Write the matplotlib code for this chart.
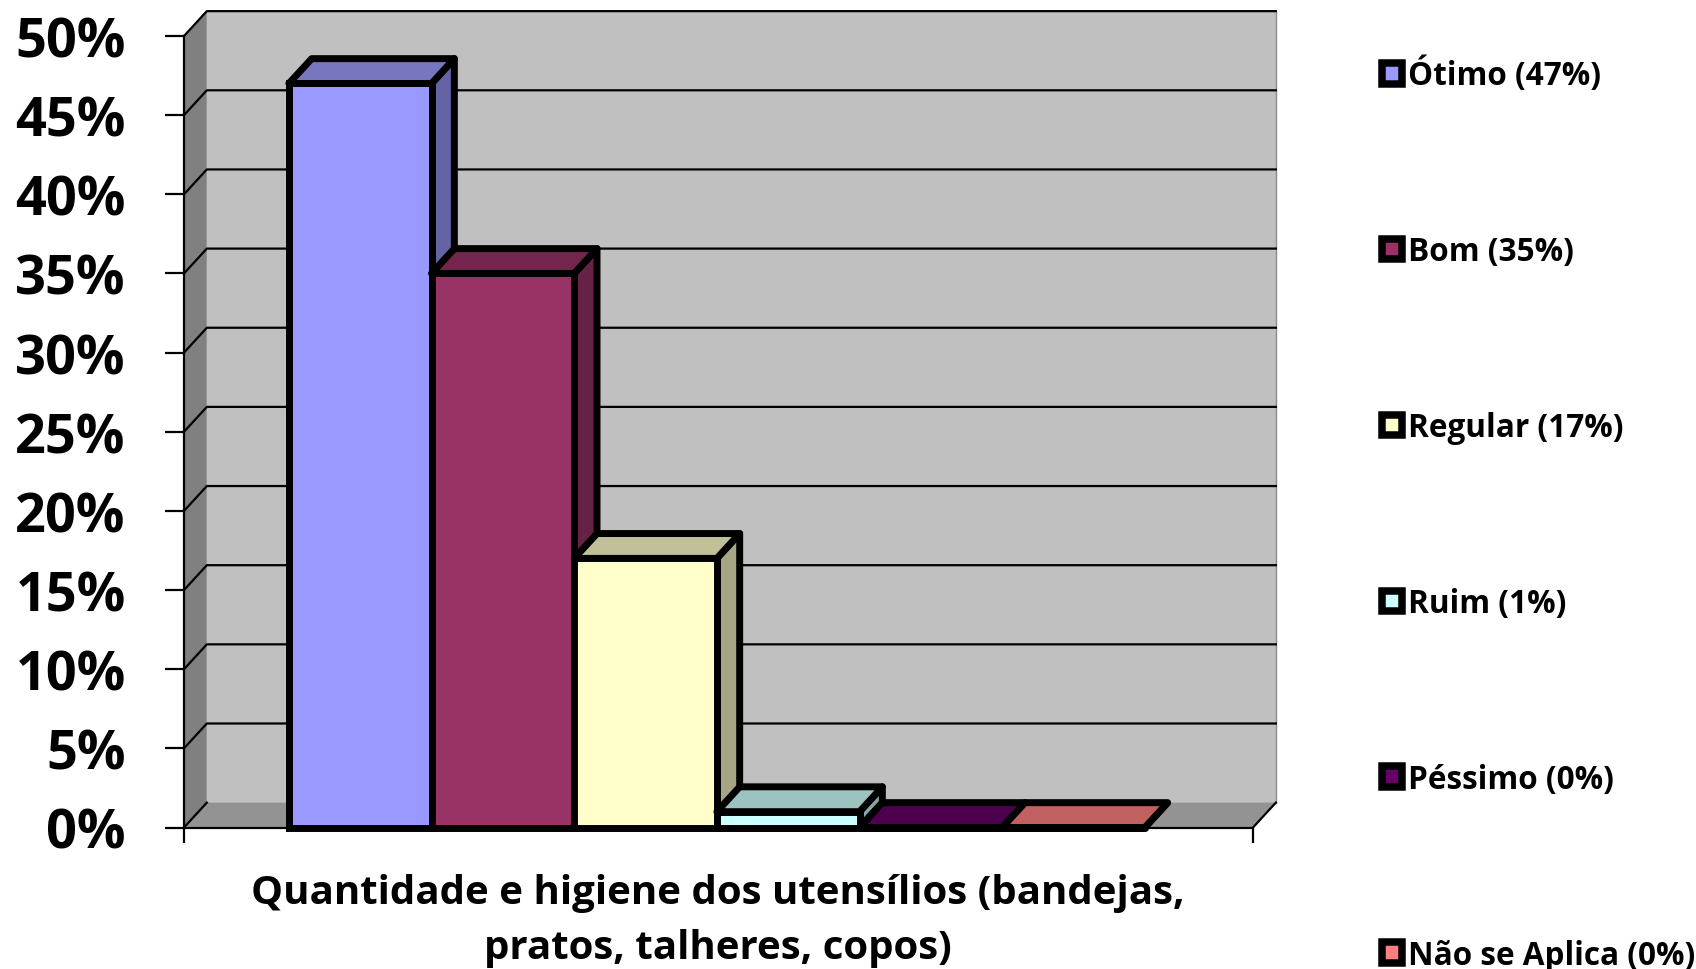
import matplotlib
matplotlib.use("Agg")
import matplotlib.pyplot as plt
from matplotlib.patches import Polygon, Patch

# === Data ===
categories = ["Ótimo", "Bom", "Regular", "Ruim", "Péssimo", "Não se Aplica"]
values = [47, 35, 17, 1, 0, 0]
colors = ["#9999FF", "#993366", "#FFFFCC", "#CCFFFF", "#660066", "#FF8080"]
top_colors = ["#7777C0", "#73264D", "#C0C099", "#9CC3C0", "#4D004D", "#C06060"]
side_colors = ["#6464A4", "#662244", "#A6A685", "#85A6A6", "#440044", "#A65353"]
y_ticks = [0, 5, 10, 15, 20, 25, 30, 35, 40, 45, 50]
x_label = "Quantidade e higiene dos utensílios (bandejas,\npratos, talheres, copos)"

# === Configuration ===
X_MIN, X_MAX = -1.235, 6.258
DX, DY = 0.16, 1.57  # depth of the fake 3D box, in data units
BAR_W = 1.0
BAR_LW = 5
FONT = "Open Sans"

plt.rcParams["font.family"] = FONT
plt.rcParams["font.weight"] = "bold"

fig = plt.figure(figsize=(16.96, 9.70), dpi=100)
ax = fig.add_axes([184 / 1696, 1 - 828.5 / 970, (1253 - 184) / 1696, (828.5 - 37) / 970])
ax.set_xlim(X_MIN, X_MAX)
ax.set_ylim(0, 50)
ax.patch.set_visible(False)


def poly(points, fc, ec="none", lw=0, z=1):
    ax.add_patch(Polygon(points, closed=True, fc=fc, ec=ec, lw=lw, zorder=z,
                         clip_on=False, joinstyle="round"))


# === Walls ===
y_top = y_ticks[-1]
poly([(X_MIN + DX, DY), (X_MAX + DX, DY), (X_MAX + DX, y_top + DY), (X_MIN + DX, y_top + DY)], "#C0C0C0")
poly([(X_MIN, 0), (X_MIN + DX, DY), (X_MIN + DX, y_top + DY), (X_MIN, y_top)], "#808080")
poly([(X_MIN, 0), (X_MAX, 0), (X_MAX + DX, DY), (X_MIN + DX, DY)], "#939393")
ax.plot([X_MAX + DX, X_MAX + DX], [DY, y_top + DY], color="#8a8a8a", lw=1, zorder=1.5, clip_on=False)

# gridlines run along the left wall, then along the back wall
for t in y_ticks[1:]:
    ax.plot([X_MIN, X_MIN + DX, X_MAX + DX], [t, t + DY, t + DY], color="black", lw=1.6,
            zorder=2, clip_on=False)
ax.plot([X_MIN, X_MIN + DX], [0, DY], color="black", lw=1.6, zorder=2, clip_on=False)
ax.plot([X_MAX, X_MAX + DX], [0, DY], color="black", lw=1.6, zorder=2, clip_on=False)

# === Bars, left to right so each one covers the side of the previous ===
for i, v in enumerate(values):
    z = 3 + i
    l, r = i - BAR_W / 2, i + BAR_W / 2
    poly([(r, 0), (r + DX, DY), (r + DX, v + DY), (r, v)], side_colors[i], "black", BAR_LW, z)
    poly([(l, v), (r, v), (r + DX, v + DY), (l + DX, v + DY)], top_colors[i], "black", BAR_LW, z)
    ax.bar(i, v, width=BAR_W, color=colors[i], edgecolor="black", linewidth=BAR_LW, zorder=z,
           clip_on=False)
    if v == 0:
        ax.plot([l, r], [0, 0], color="black", lw=BAR_LW, zorder=z, clip_on=False,
                solid_capstyle="round")

# === Axes ===
for name in ("top", "right"):
    ax.spines[name].set_visible(False)
for name in ("left", "bottom"):
    ax.spines[name].set_linewidth(1.6)
ax.set_yticks(y_ticks)
ax.set_yticklabels([f"{t}%" for t in y_ticks], fontsize=39, fontweight="bold")
ax.tick_params(axis="y", length=14, width=1.6, pad=28)
ax.set_xticks([X_MIN, X_MAX])
ax.set_xticklabels([])
ax.tick_params(axis="x", length=11, width=1.6)
ax.text((X_MIN + X_MAX) / 2 - 0.005, -5.85, x_label, ha="center", va="center", fontsize=29,
        fontweight="bold", linespacing=1.53)

# === Legend ===
handles = [Patch(fc=c, ec="black", lw=5.4, joinstyle="round") for c in colors]
labels = [f"{c} ({v}%)" for c, v in zip(categories, values)]
fig.legend(handles, labels, loc="upper left", bbox_to_anchor=(1382 / 1696, 1 - 58 / 970),
           bbox_transform=fig.transFigure, frameon=False, borderpad=0,
           borderaxespad=0, labelspacing=4.53, handlelength=0.62, handleheight=0.62,
           handletextpad=0.22, prop={"family": FONT, "weight": "bold", "size": 22.7})

fig.savefig("out.png", dpi=100)
